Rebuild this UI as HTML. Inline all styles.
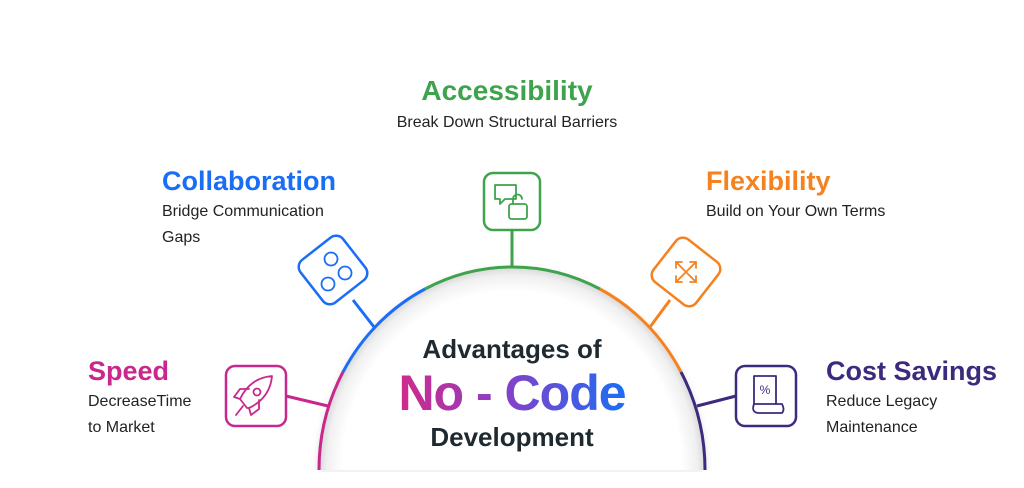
<!DOCTYPE html>
<html><head><meta charset="utf-8"><style>
html,body{margin:0;padding:0;background:#fff;}
svg{display:block;}
text{font-family:"Liberation Sans",sans-serif;}
</style></head><body>
<svg width="1024" height="488" viewBox="0 0 1024 488" xmlns="http://www.w3.org/2000/svg">
<defs>
<linearGradient id="g" x1="0" x2="1" y1="0" y2="0">
<stop offset="0" stop-color="#d12a8a"/><stop offset="0.45" stop-color="#8a3fc4"/><stop offset="1" stop-color="#1a6ef5"/>
</linearGradient>
<radialGradient id="rg" gradientUnits="userSpaceOnUse" cx="512" cy="470" r="200" gradientTransform="translate(512 470) scale(0.965 1.015) translate(-512 -470)">
<stop offset="0.88" stop-color="#fff"/><stop offset="0.96" stop-color="#f0f0f0"/><stop offset="1" stop-color="#d8d8d8"/>
</radialGradient>
<filter id="sh" x="-20%" y="-20%" width="140%" height="140%">
<feGaussianBlur stdDeviation="4"/>
</filter>
</defs>
<path d="M319,470 A193,203 0 0 1 705,470 Z" fill="#ccc" filter="url(#sh)" transform="translate(0,3)"/>
<rect x="305" y="470" width="414" height="18" fill="#fff"/>
<path d="M319,470 A193,203 0 0 1 705,470 Z" fill="url(#rg)"/>
<rect x="321" y="470" width="382" height="2" fill="#f2f2f2"/>
<g fill="none" stroke-width="3">
<path d="M319,470 A193,203 0 0 1 343,372" stroke="#c8288c"/>
<path d="M343,372 A193,203 0 0 1 425,289" stroke="#1a6ef5"/>
<path d="M425,289 A193,203 0 0 1 600,289" stroke="#3fa34d"/>
<path d="M600,289 A193,203 0 0 1 681,372" stroke="#f5821f"/>
<path d="M681,372 A193,203 0 0 1 705,470" stroke="#3d2a7e"/>
</g>
<g stroke-width="3">
<line x1="286" y1="396" x2="328" y2="406" stroke="#c8288c"/>
<line x1="353" y1="300" x2="374" y2="327" stroke="#1a6ef5"/>
<line x1="512" y1="230" x2="512" y2="268" stroke="#3fa34d"/>
<line x1="670" y1="300" x2="650" y2="327" stroke="#f5821f"/>
<line x1="736" y1="396" x2="697" y2="406" stroke="#3d2a7e"/>
</g>
<g fill="#fff" stroke-width="2.5">
<rect x="226" y="366" width="60" height="60" rx="9" stroke="#c8288c"/>
<rect x="736" y="366" width="60" height="60" rx="9" stroke="#3d2a7e"/>
<rect x="484" y="173" width="56" height="57" rx="9" stroke="#3fa34d"/>
<rect x="306" y="243" width="54" height="54" rx="9" stroke="#1a6ef5" transform="rotate(-38 333 270)"/>
<rect x="659" y="245" width="54" height="54" rx="9" stroke="#f5821f" transform="rotate(38 686 272)"/>
</g>
<g fill="none" stroke-width="1.8" stroke-linecap="round" stroke-linejoin="round">
<g stroke="#c8288c"><path d="M247,408 L240,399 Q250,378 272,376 Q270,398 249,408 Z"/><circle cx="257" cy="392" r="3.5"/><path d="M236,415 L243,406"/><path d="M240,399 L234,397 L240,389 L249,389"/><path d="M249,408 L251,415 L259,409 L259,400"/></g>
<g stroke="#3d2a7e"><path d="M754,376 h22 v28 h-22 z"/><text x="765" y="394" font-size="12" text-anchor="middle" fill="#3d2a7e" stroke="none">%</text><path d="M754,404 q-3,8 4,9 h24 q3,-3 0,-9 h-6"/></g>
<g stroke="#3fa34d"><path d="M495,185 h21 v14 h-11 l-5,5 v-5 h-5 z"/><rect x="509" y="204" width="18" height="15" rx="2.5"/><path d="M513,204 v-5 a4.5,4.5 0 0 1 9,0"/></g>
<g stroke="#1a6ef5"><circle cx="331" cy="259" r="6.5"/><circle cx="345" cy="273" r="6.5"/><circle cx="328" cy="284" r="6.5"/></g>
<g stroke="#f5821f"><path d="M676,262 L696,282 M696,262 L676,282"/><path d="M676,262 h6 M676,262 v6 M696,262 h-6 M696,262 v6 M696,282 h-6 M696,282 v-6 M676,282 h6 M676,282 v-6"/></g>
</g>
<text x="507" y="100" font-size="28" font-weight="bold" fill="#3fa34d" text-anchor="middle">Accessibility</text>
<text x="507" y="127" font-size="16" fill="#222" text-anchor="middle">Break Down Structural Barriers</text>
<text x="162" y="190" font-size="27" font-weight="bold" fill="#1a6ef5">Collaboration</text>
<text x="162" y="216" font-size="16" fill="#222">Bridge Communication</text>
<text x="162" y="242" font-size="16" fill="#222">Gaps</text>
<text x="706" y="190" font-size="27" font-weight="bold" fill="#f5821f">Flexibility</text>
<text x="706" y="216" font-size="16" fill="#222">Build on Your Own Terms</text>
<text x="88" y="380" font-size="27" font-weight="bold" fill="#c8288c">Speed</text>
<text x="88" y="406" font-size="16" fill="#222">DecreaseTime</text>
<text x="88" y="432" font-size="16" fill="#222">to Market</text>
<text x="826" y="380" font-size="27" font-weight="bold" fill="#3d2a7e">Cost Savings</text>
<text x="826" y="406" font-size="16" fill="#222">Reduce Legacy</text>
<text x="826" y="432" font-size="16" fill="#222">Maintenance</text>
<text x="512" y="358" font-size="26" font-weight="bold" fill="#1f2a30" text-anchor="middle">Advantages of</text>
<text x="512" y="410" font-size="50" font-weight="bold" fill="url(#g)" text-anchor="middle" letter-spacing="-1">No - Code</text>
<text x="512" y="446" font-size="26" font-weight="bold" fill="#1f2a30" text-anchor="middle">Development</text>
</svg>
</body></html>
